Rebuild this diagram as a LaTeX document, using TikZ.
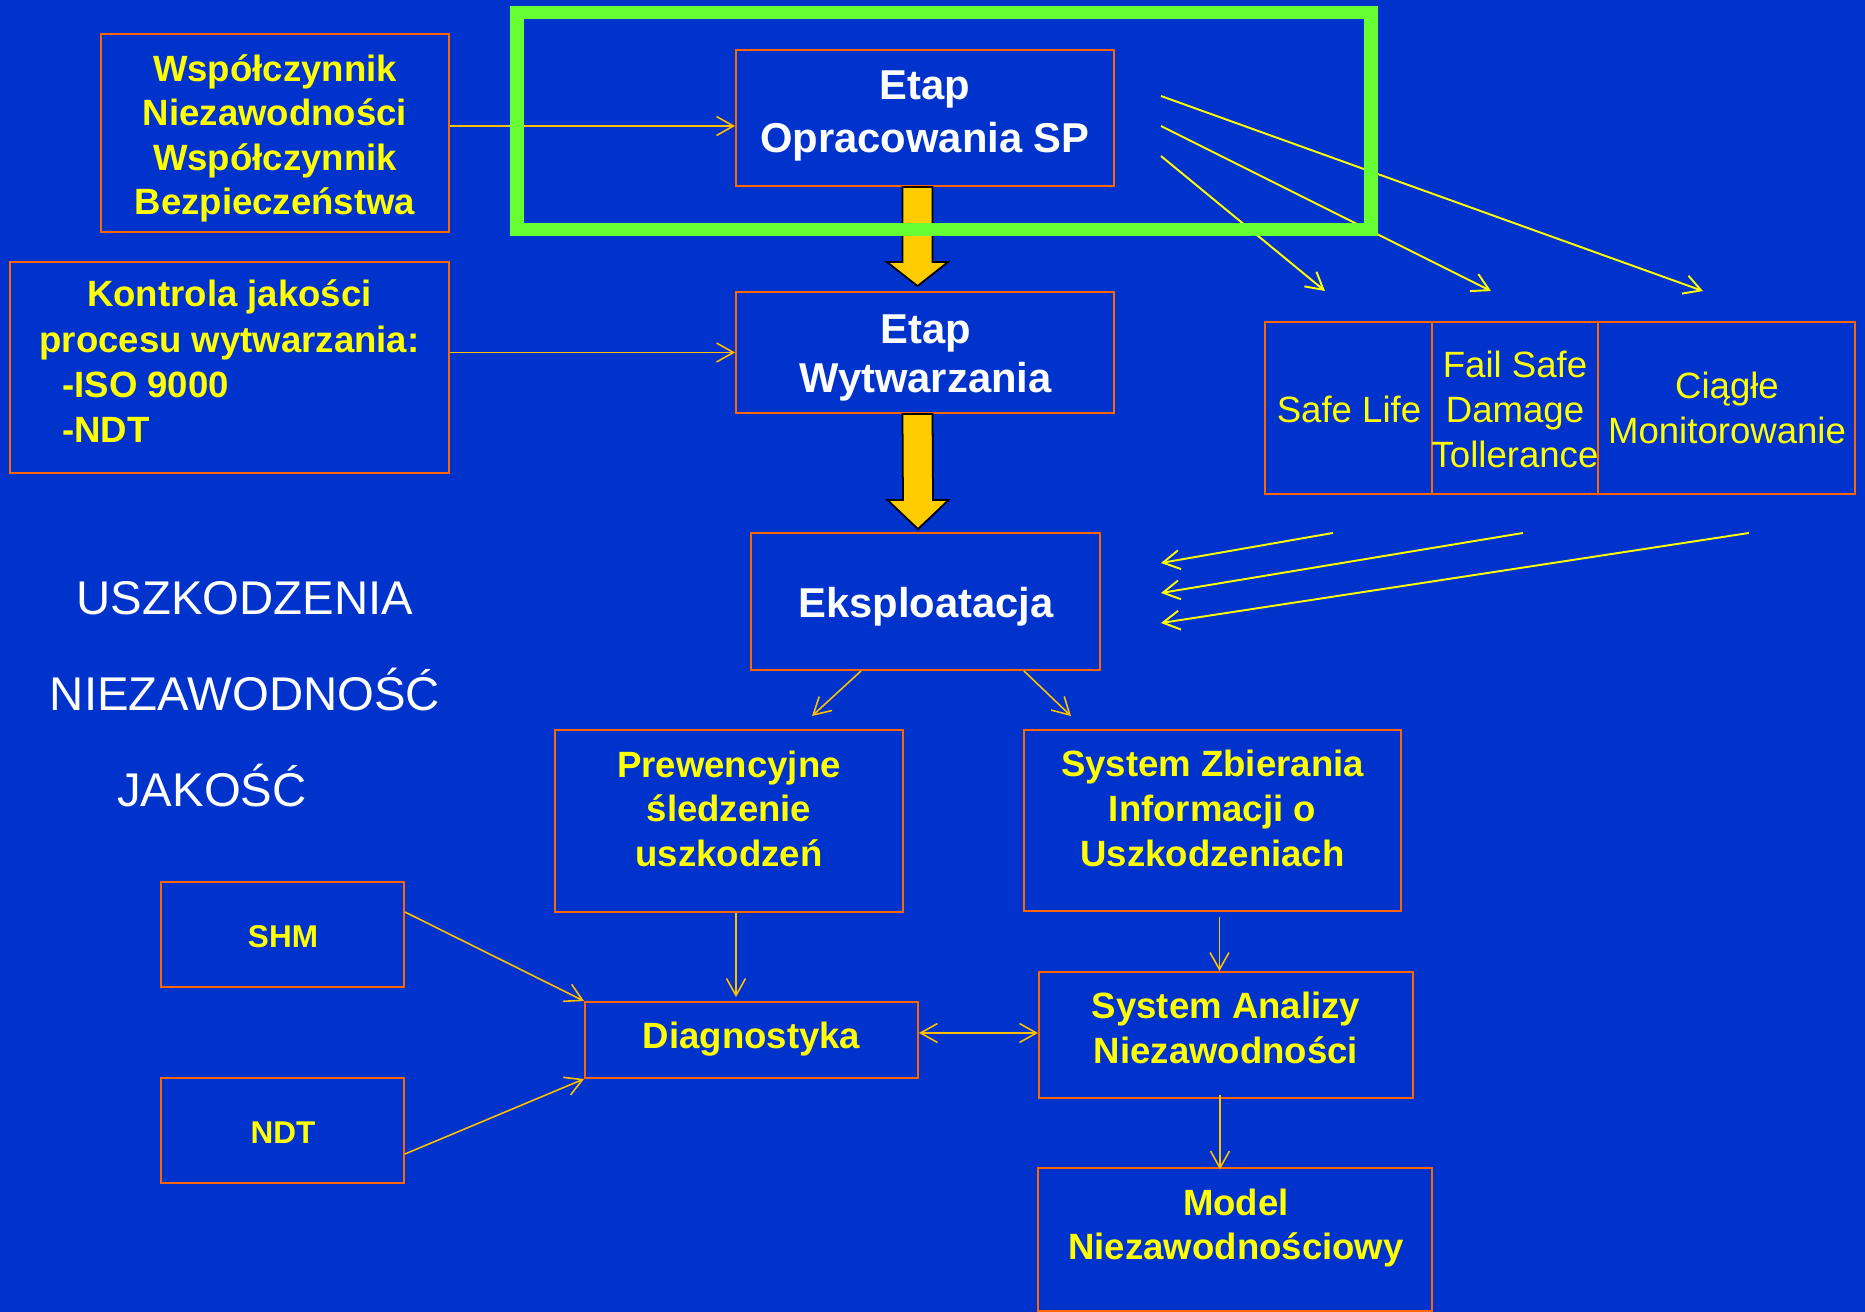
\documentclass[tikz,border=0pt]{standalone}
\usepackage{fontspec}
\setmainfont{Liberation Sans}
\usetikzlibrary{arrows.meta,calc,fit}

\definecolor{bgblue}{HTML}{0033CC}
\definecolor{boxorange}{HTML}{FF6600}
\definecolor{txtyellow}{HTML}{FFFF00}
\definecolor{linegold}{HTML}{FFC000}
\definecolor{blockfill}{HTML}{FFCC00}
\definecolor{framegreen}{HTML}{66FF33}

% multi-line text whose baseline is the first line
\newcommand{\mlines}[1]{\begin{tabular}[t]{@{}c@{}}#1\end{tabular}}

\begin{document}
\begin{tikzpicture}[x=0.01cm,y=-0.01cm,
  box/.style={draw=boxorange, line width=0.55pt, inner sep=0pt},
  ybold/.style={text=txtyellow, inner sep=0pt, anchor=base,
    font=\fontsize{10.4pt}{12.66pt}\selectfont\bfseries},
  yplain/.style={text=txtyellow, inner sep=0pt, anchor=base,
    font=\fontsize{10.4pt}{12.8pt}\selectfont},
  wbold/.style={text=white, inner sep=0pt, anchor=base,
    font=\fontsize{11.87pt}{14.8pt}\selectfont\bfseries},
  wplain/.style={text=white, inner sep=0pt, anchor=base,
    font=\fontsize{13.46pt}{16pt}\selectfont},
  tip/.style={-{Straight Barb[length=4.8pt,width=5.4pt]}},
  garrow/.style={draw=linegold, line width=0.45pt, tip},
  yarrow/.style={draw=txtyellow, line width=0.55pt, tip},
  blockarrow/.style={fill=blockfill, draw=black, line width=0.5pt, line join=miter},
]
% background
\fill[bgblue] (0,0) rectangle (1865,1312);
\useasboundingbox (0,0) rectangle (1865,1312);

% boxes
\node[box, fit={(101,34) (449,232)}] (wsp) {};
\node[box, fit={(10,262) (449,473)}] (ctl) {};
\node[box, fit={(736,50) (1114,186)}] (sp) {};
\node[box, fit={(736,292) (1114,413)}] (wyt) {};
\node[box, fit={(751,533) (1100,670)}] (eks) {};
\node[box, fit={(1265,322) (1432,494)}] (sl) {};
\node[box, fit={(1432,322) (1598,494)}] (fs) {};
\node[box, fit={(1598,322) (1855,494)}] (cm) {};
\node[box, fit={(555,730) (903,912)}] (prew) {};
\node[box, fit={(1024,730) (1401,911)}] (zb) {};
\node[box, fit={(161,882) (404,987)}] (shm) {};
\node[box, fit={(161,1078) (404,1183)}] (ndt) {};
\node[box, fit={(585,1002) (918,1078)}] (diag) {};
\node[box, fit={(1039,972) (1413,1098)}] (an) {};
\node[box, fit={(1038,1168) (1432,1311)}] (model) {};

% texts
\node[ybold] (wspT) at (275,81) {\mlines{Współczynnik\\Niezawodności\\Współczynnik\\Bezpieczeństwa}};
\node[ybold, font=\fontsize{10.4pt}{12.8pt}\selectfont\bfseries] (ctlT) at (229.5,307)
  {\begin{tabular}[t]{@{}l@{}}\multicolumn{1}{@{}c@{}}{Kontrola jakości}\\procesu wytwarzania:\\\hspace{6.5pt}-ISO 9000\\\hspace{6.5pt}-NDT\end{tabular}};
\node[wbold] (spT) at (925,100) {\mlines{Etap\\Opracowania SP}};
\node[wbold, font=\fontsize{11.87pt}{14.2pt}\selectfont\bfseries] (wytT) at (925.5,343) {\mlines{Etap\\Wytwarzania}};
\node[wbold] (eksT) at (926,617) {Eksploatacja};
\node[yplain] (slT) at (1349,422) {Safe Life};
\node[yplain] (fsT) at (1515,377) {\mlines{Fail Safe\\Damage\\Tollerance}};
\node[yplain] (cmT) at (1727,398) {\mlines{Ciągłe\\Monitorowanie}};
\node[wplain] (lab1) at (245,614) {USZKODZENIA};
\node[wplain] (lab2) at (245,710) {NIEZAWODNOŚĆ};
\node[wplain] (lab3) at (212,806) {JAKOŚĆ};
\node[ybold] (prewT) at (729,777) {\mlines{Prewencyjne\\śledzenie\\uszkodzeń}};
\node[ybold, font=\fontsize{10.4pt}{12.8pt}\selectfont\bfseries] (zbT) at (1212.5,776) {\mlines{System Zbierania\\Informacji o\\Uszkodzeniach}};
\node[ybold, font=\fontsize{8.96pt}{11pt}\selectfont\bfseries] (shmT) at (283,947) {SHM};
\node[ybold, font=\fontsize{8.96pt}{11pt}\selectfont\bfseries] (ndtT) at (283,1143) {NDT};
\node[ybold] (diagT) at (751.5,1048) {Diagnostyka};
\node[ybold, font=\fontsize{10.4pt}{12.8pt}\selectfont\bfseries] (anT) at (1226,1018) {\mlines{System Analizy\\Niezawodności}};
\node[ybold] (modelT) at (1236,1215) {\mlines{Model\\Niezawodnościowy}};

% inputs on the left
\draw[garrow] ($(wsp.east)+(0,-7)$) coordinate (w1) -- (w1 -| sp.west);
\draw[garrow] (wyt.west -| ctl.east) -- (wyt.west);

% block arrows down the main column
\coordinate (a1s) at ($(sp.south)+(-7.5,0)$);
\coordinate (a1t) at ($(wyt.north)+(-7.5,-5)$);
\filldraw[blockarrow] ($(a1s)+(-15,0)$) -- ($(a1t)+(-15,-24)$) -- ($(a1t)+(-30.5,-24)$)
  -- (a1t) -- ($(a1t)+(30.5,-24)$) -- ($(a1t)+(15,-24)$) -- ($(a1s)+(15,0)$) -- cycle;
\coordinate (a2s) at ($(wyt.south)+(-7.5,0)$);
\coordinate (a2t) at ($(eks.north)+(-7.5,-3)$);
\filldraw[blockarrow] ($(a2s)+(-15,0)$) -- ($(a2t)+(-15,-29)$) -- ($(a2t)+(-30.5,-29)$)
  -- (a2t) -- ($(a2t)+(30.5,-29)$) -- ($(a2t)+(15,-29)$) -- ($(a2s)+(15,0)$) -- cycle;

% design strategies
\coordinate (d1) at ($(sp.east)+(46,-22)$);
\coordinate (d2) at ($(sp.east)+(46,8)$);
\coordinate (d3) at ($(sp.east)+(46,38)$);
\coordinate (e1) at ($(cm.north)+(-23.5,-30)$);
\coordinate (e2) at ($(fs.north)+(-24,-30)$);
\coordinate (e3) at ($(sl.north)+(-23.5,-30)$);
\draw[yarrow] (d1) -- (e1);
\draw[yarrow] (d2) -- (e2);
\draw[yarrow] (d3) -- (e3);

% feedback into operation
\coordinate (r1) at ($(sl.south)+(-15.5,38)$);
\coordinate (r2) at ($(fs.south)+(8,38)$);
\coordinate (r3) at ($(cm.south)+(22.5,38)$);
\coordinate (t1) at ($(eks.east)+(60,-38.5)$);
\coordinate (t2) at ($(eks.east)+(60,-8.5)$);
\coordinate (t3) at ($(eks.east)+(60,21.5)$);
\draw[yarrow] (r1) -- (t1);
\draw[yarrow] (r2) -- (t2);
\draw[yarrow] (r3) -- (t3);

% lower part
\draw[garrow] ($(eks.south)+(-64.5,0)$) -- ($(prew.north)+(83,-13)$);
\draw[garrow] ($(eks.south)+(98.5,0)$) -- ($(zb.north)+(-141.5,-13)$);
\draw[garrow] ($(prew.south)+(7,0)$) -- ($(diag.north)+(-15.5,-4)$);
\draw[garrow] ($(shm.east)+(0,-22.5)$) -- (diag.north west);
\draw[garrow] ($(ndt.east)+(0,23.5)$) -- (diag.south west);
\draw[garrow, {Straight Barb[length=4.8pt,width=5.4pt]}-{Straight Barb[length=4.8pt,width=5.4pt]}]
  ($(diag.east)+(0,-7)$) coordinate (dd) -- (dd -| an.west);
\draw[garrow] ($(zb.south)+(7,4.6)$) coordinate (z1) -- (z1 |- an.north);
\draw[garrow] ($(an.south)+(-6,-4)$) coordinate (m1) -- ($(m1 |- model.north)+(0,2.5)$);

% highlight frame
\draw[framegreen, line width=3.7pt] (517,12.5) rectangle (1371,229.5);
\end{tikzpicture}
\end{document}
